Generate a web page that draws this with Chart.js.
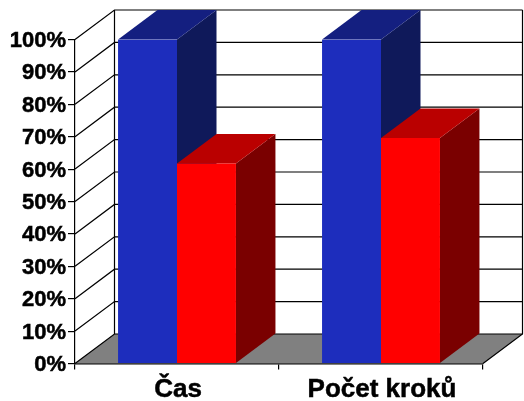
<!DOCTYPE html>
<html>
<head>
<meta charset="utf-8">
<style>
  html, body { margin: 0; padding: 0; background: #fff; }
  #wrap { width: 524px; height: 401px; }
</style>
<script src="https://cdn.jsdelivr.net/npm/chart.js@4"></script>
</head>
<body>
<div id="wrap"><canvas id="chart" width="524" height="401"></canvas></div>
<script>
const categories = ['Čas', 'Počet kroků'];
const blueValues = [100, 100];
const redValues = [61.7, 69.6];
const tickValues = [0, 10, 20, 30, 40, 50, 60, 70, 80, 90, 100];

// offset of the back wall from the front plane
const depthX = 39.5;
const depthY = -29.5;

function poly(ctx, pts, fill, stroke) {
    ctx.beginPath();
    pts.forEach((p, i) => i ? ctx.lineTo(p[0], p[1]) : ctx.moveTo(p[0], p[1]));
    ctx.closePath();
    if (fill) { ctx.fillStyle = fill; ctx.fill(); }
    if (stroke) { ctx.strokeStyle = stroke; ctx.lineWidth = 1; ctx.stroke(); }
}

const walls = {
    id: 'walls',
    beforeDatasetsDraw(chart) {
        const { ctx, chartArea: a, scales: { y } } = chart;
        ctx.save();
        // floor
        poly(ctx, [[a.left, a.bottom], [a.left + depthX, a.bottom + depthY],
                   [a.right + depthX, a.bottom + depthY], [a.right, a.bottom]], '#808080');
        ctx.strokeStyle = '#000';
        ctx.lineWidth = 1.2;
        tickValues.forEach(v => {
            const py = y.getPixelForValue(v);
            ctx.beginPath();
            ctx.moveTo(a.left, py);
            ctx.lineTo(a.left + depthX, py + depthY);
            ctx.lineTo(a.right + depthX, py + depthY);
            ctx.stroke();
        });
        // wall corners
        ctx.beginPath();
        ctx.moveTo(a.left + depthX, a.top + depthY);
        ctx.lineTo(a.left + depthX, a.bottom + depthY);
        ctx.moveTo(a.right + depthX, a.top + depthY);
        ctx.lineTo(a.right + depthX, a.bottom + depthY);
        ctx.lineTo(a.right, a.bottom);
        ctx.stroke();
        // side and top faces, blue first so red sits over it
        const shades = [['#141f80', '#0f195a'], ['#ba0000', '#7a0000']];
        chart.data.datasets.forEach((ds, d) => {
            chart.getDatasetMeta(d).data.forEach(bar => {
                const l = bar.x - bar.width / 2, r = bar.x + bar.width / 2;
                const t = bar.y, b = bar.base;
                poly(ctx, [[r, t], [r + depthX, t + depthY], [r + depthX, b + depthY], [r, b]], shades[d][1]);
                poly(ctx, [[l, t], [l + depthX, t + depthY], [r + depthX, t + depthY], [r, t]], shades[d][0]);
            });
        });
        ctx.restore();
    }
};

new Chart(document.getElementById('chart'), {
    type: 'bar',
    data: {
        labels: categories,
        datasets: [
            { data: blueValues, backgroundColor: '#1d2dbd', borderWidth: 0 },
            { data: redValues, backgroundColor: '#ff0000', borderWidth: 0 }
        ]
    },
    options: {
        responsive: false,
        animation: false,
        layout: { padding: { top: 39.5, right: 41, left: 0, bottom: 0 } },
        plugins: { legend: { display: false }, tooltip: { enabled: false } },
        datasets: { bar: { categoryPercentage: 0.578, barPercentage: 1 } },
        scales: {
            x: {
                afterFit(s) { s.height = 37.5; },
                grid: { drawOnChartArea: false, color: '#000', tickLength: 6, lineWidth: 1.2 },
                border: { color: '#000', width: 1.5 },
                ticks: {
                    color: '#000', padding: 5, maxRotation: 0, labelOffset: 1,
                    textStrokeColor: '#000', textStrokeWidth: 0.5,
                    font: { family: '"Liberation Sans"', weight: 'bold', size: 26 }
                }
            },
            y: {
                min: 0, max: 100,
                afterFit(s) { s.width = 75; },
                afterBuildTicks(s) { s.ticks = tickValues.map(v => ({ value: v })); },
                grid: { drawOnChartArea: false, color: '#000', tickLength: 7, lineWidth: 1.2 },
                border: { color: '#000', width: 1.2 },
                ticks: {
                    color: '#000', padding: 2, labelOffset: 1.5,
                    textStrokeColor: '#000', textStrokeWidth: 0.5,
                    font: { family: '"Liberation Sans"', weight: 'bold', size: 22 },
                    callback: v => v + '%'
                }
            }
        }
    },
    plugins: [walls]
});
</script>
</body>
</html>
